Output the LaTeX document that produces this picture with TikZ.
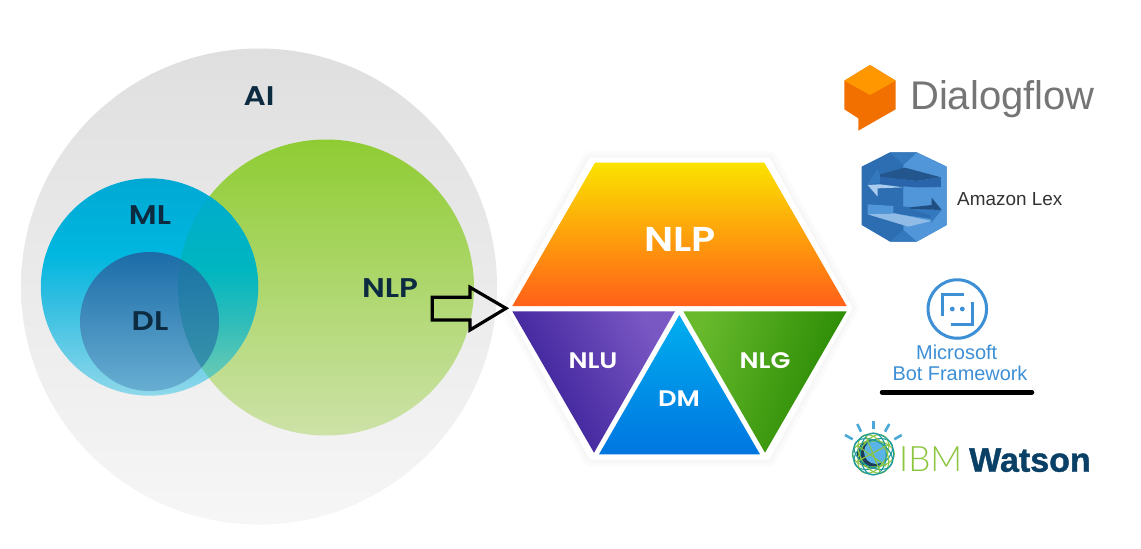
\documentclass[tikz,border=0pt]{standalone}
\usepackage{fontspec}
\usetikzlibrary{calc}
\setmainfont{Liberation Sans}
\newfontfamily\lblfont[FakeStretch=1.15]{Poppins SemiBold}
\newfontfamily\thinfont{Lato Light}
\newfontfamily\watsonfont[FakeBold=1.2]{Liberation Sans Bold}
\definecolor{inkdark}{HTML}{0D2B40}
\definecolor{msblue}{HTML}{3D8FD6}
\definecolor{dfgray}{HTML}{757575}
\definecolor{ibmgreen}{HTML}{8CC63F}
\definecolor{ibmteal}{HTML}{1E9A9A}
\definecolor{ibmnavy}{HTML}{0A4066}
\definecolor{raysblue}{HTML}{4AA9D8}
\definecolor{globeblue}{HTML}{5AB4E6}
\definecolor{globedark}{HTML}{1E3A5A}
\definecolor{lxbase}{RGB}{45,109,178}
\definecolor{lxlight}{RGB}{80,150,216}
\definecolor{lxmid}{RGB}{52,120,190}
\definecolor{lxnavy}{RGB}{35,86,140}
\definecolor{lxdeep}{RGB}{42,100,170}
\definecolor{lxpale}{RGB}{170,204,238}
\definecolor{lxnavyb}{RGB}{30,78,130}
\definecolor{lxsoft}{RGB}{143,187,230}
\definecolor{dfa}{RGB}{241,112,0}
\definecolor{dfc}{RGB}{255,152,0}
\definecolor{mla}{HTML}{00A9D4}
\definecolor{mlb}{HTML}{00B7DF}
\definecolor{mlc}{HTML}{2FBDE1}
\definecolor{mld}{HTML}{90D8EA}
\definecolor{ova}{HTML}{00A9CF}
\definecolor{ovb}{HTML}{00B6C0}
\definecolor{ovc}{HTML}{2DBCBA}
\definecolor{ovd}{HTML}{60C8B5}
\definecolor{ove}{HTML}{70CCB5}
\pgfdeclareverticalshading{mlshade}{100bp}{color(0bp)=(mld); color(25bp)=(mld); color(47.5bp)=(mlc); color(57.5bp)=(mlb); color(75bp)=(mla); color(100bp)=(mla)}
\pgfdeclareverticalshading{ovshade}{100bp}{color(0bp)=(ove); color(25bp)=(ove); color(31bp)=(ovd); color(42.5bp)=(ovc); color(54bp)=(ovb); color(75bp)=(ova); color(100bp)=(ova)}
\tikzset{
  darklabel/.style={inner sep=0pt,text=inkdark,font=\lblfont\fontsize{27}{27}\selectfont},
  whitesmall/.style={inner sep=0pt,text=white,font=\lblfont\fontsize{22.5}{22.5}\selectfont},
  whitebig/.style={inner sep=0pt,text=white,font=\lblfont\fontsize{34.5}{34.5}\selectfont},
  brandtext/.style={inner sep=0pt,anchor=base},
  botline/.style={msblue,line width=3pt},
  ray/.style={raysblue,line width=2.6pt},
  orbit/.style={line width=1.1pt},
}
\begin{document}
\begin{tikzpicture}[x=1pt,y=-1pt]
\useasboundingbox (0,0) rectangle (1141,549);
\fill[white] (0,0) rectangle (1141,549);
% coordinates
\coordinate (cAI) at (259,286.5);
\coordinate (cNLP) at (326,287.5);
\coordinate (cML) at (149.5,287);
\coordinate (cDL) at (149.5,321.5);
\def\rAI{238pt}\def\rNLP{148pt}\def\rML{108.7pt}\def\rDL{69.5pt}
% circles
\shade[top color=black!12.5,bottom color=black!3.5] (cAI) circle[radius=\rAI];
\shade[top color={rgb,255:red,143;green,204;blue,51},bottom color={rgb,255:red,205;green,226;blue,168}] (cNLP) circle[radius=\rNLP];
\shade[shading=mlshade] (cML) circle[radius=\rML];
\begin{scope}
  \clip (cNLP) circle[radius=\rNLP];
  \shade[shading=ovshade] (cML) circle[radius=\rML];
\end{scope}
\shade[top color={rgb,255:red,28;green,108;blue,168},bottom color={rgb,255:red,104;green,174;blue,210}] (cDL) circle[radius=\rDL];
\begin{scope}
  \clip (cNLP) circle[radius=\rNLP];
  \shade[top color={rgb,255:red,26;green,114;blue,166},middle color={rgb,255:red,31;green,133;blue,172},bottom color={rgb,255:red,60;green,152;blue,172}] (cDL) circle[radius=\rDL];
\end{scope}
\node[darklabel] (lAI) at (259,96) {AI};
\node[darklabel] (lML) at (150,215) {ML};
\node[darklabel] (lDL) at (150,321) {DL};
\node[darklabel] (lNLP) at (390,288) {NLP};
% hexagon glow and rim
\def\hexpath{(590,158) -- (769,158) -- (852,308) -- (769,459) -- (590,459) -- (507,308) -- cycle}
\begin{scope}[line join=round]
  \draw[black!1.5,line width=14pt] \hexpath;
  \draw[black!3,line width=7pt] \hexpath;
  \fill[white,draw=white,line width=1pt] \hexpath;
\end{scope}
% hexagon parts
\shade[top color={rgb,255:red,251;green,226;blue,0},middle color={rgb,255:red,255;green,154;blue,16},bottom color={rgb,255:red,255;green,96;blue,24}] (595,162.7) -- (764.3,162.7) -- (846.7,306) -- (512.3,306) -- cycle;
\shade[shading=axis,top color={rgb,255:red,122;green,88;blue,196},bottom color={rgb,255:red,52;green,26;blue,148},shading angle=-60] (512.3,311.3) -- (675,311.3) -- (594,452.7) -- cycle;
\shade[shading=axis,top color={rgb,255:red,104;green,186;blue,44},bottom color={rgb,255:red,36;green,134;blue,0},shading angle=72] (683.3,311.3) -- (846.7,311.3) -- (765,452.7) -- cycle;
\shade[top color={rgb,255:red,0;green,174;blue,239},bottom color={rgb,255:red,0;green,118;blue,224}] (679.3,315) -- (760,454.3) -- (599,454.3) -- cycle;
\node[whitebig] (hNLP) at (680,239) {NLP};
\node[whitesmall] (hNLU) at (593,361) {NLU};
\node[whitesmall] (hNLG) at (765,361) {NLG};
\node[whitesmall] (hDM) at (679,399) {DM};
% outline arrow
\draw[black,line width=3.2pt,line join=miter] (432.3,297.3) -- (470,297.3) -- (470,287.3) -- (506,308.3) -- (470,330) -- (470,320) -- (432.3,320) -- cycle;
% Dialogflow logo
\fill[dfa] (870,65) -- (895.7,80.7) -- (895.7,109.3) -- (858.3,130.7) -- (858.3,118.3) -- (844.3,109.3) -- (844.3,80.7) -- cycle;
\fill[dfc] (870,65) -- (895.7,80.7) -- (870,95) -- (844.3,80.7) -- cycle;
\node[brandtext,anchor=base west,text=dfgray,font=\fontsize{40}{40}\selectfont] (tDF) at (910,109) {Dialogflow};
% Amazon Lex logo
\begin{scope}[shift={(840,145)},x=.3333pt,y=-.3333pt]
  \fill[lxbase] (150,22) -- (230,22) -- (320,65) -- (320,240) -- (230,290) -- (150,290) -- (65,240) -- (65,65) -- cycle;
  \fill[lxlight] (190,60) -- (230,22) -- (320,65) -- (320,240) -- (230,290) -- (190,255) -- cycle;
  \fill[lxmid] (150,22) -- (230,22) -- (190,60) -- cycle;
  \fill[lxmid] (150,290) -- (230,290) -- (190,255) -- cycle;
  \fill[lxmid] (113,70) -- (83,118) -- (120,118) -- (120,92) -- cycle;
  \fill[lxnavy] (120,88) -- (195,68) -- (303,97) -- (228,108) -- (120,95) -- cycle;
  \fill[lxdeep] (228,108) -- (303,97) -- (303,127) -- (228,127) -- cycle;
  \fill[lxbase] (85,118) -- (190,108) -- (190,180) -- (85,175) -- cycle;
  \fill[lxdeep] (120,95) -- (228,108) -- (228,127) -- (120,118) -- cycle;
  \fill[lxpale] (83,120) -- (113,155) -- (113,130) -- (190,127) -- (120,118) -- cycle;
  \fill[lxlight] (190,130) -- (303,127) -- (303,160) -- (190,182) -- cycle;
  \fill[lxbase] (160,183) -- (275,190) -- (275,222) -- (160,205) -- cycle;
  \fill[lxnavyb] (212,187) -- (275,180) -- (275,158) -- (305,195) -- (212,192) -- cycle;
  \fill[lxmid] (212,192) -- (305,195) -- (272,235) -- (275,212) -- cycle;
  \fill[lxlight] (83,178) -- (160,183) -- (160,205) -- (83,208) -- cycle;
  \fill[lxsoft] (83,208) -- (165,205) -- (275,228) -- (205,245) -- cycle;
\end{scope}
\node[brandtext,anchor=base west,text=black!80,font=\fontsize{18.9}{18.9}\selectfont] (tLex) at (957,205) {Amazon Lex};
% Microsoft Bot Framework logo
\node[circle,draw=msblue,line width=3pt,minimum size=58.5pt,inner sep=0pt] (msring) at (957.3,309) {};
\coordinate (ba) at (964.3,294);
\coordinate (bb) at (942.3,294);
\coordinate (bc) at (942.3,316);
\coordinate (bd) at (950.7,324);
\coordinate (be) at (972.3,324);
\coordinate (bf) at (972.3,302.3);
\draw[botline] (ba) -- (bb) -- (bc);
\draw[botline] (bd) -- (be) -- (bf);
\fill[msblue] (952.3,309) circle[radius=2.4pt];
\fill[msblue] (962.3,309) circle[radius=2.4pt];
\node[brandtext,text=msblue,font=\fontsize{20}{20}\selectfont] (tMS) at (956.7,359) {Microsoft};
\node[brandtext,text=msblue,font=\fontsize{19.9}{20}\selectfont] (tBF) at (960,380.7) {Bot Framework};
\coordinate (ula) at (882,392.3);
\coordinate (ulb) at (1032,392.3);
\draw[black,line width=4.5pt,line cap=round] (ula) -- (ulb);
% IBM Watson logo
\draw[ray] (845,435) -- (852.7,439.3);
\draw[ray] (857.3,424) -- (861,431.7);
\draw[ray] (873.3,420.7) -- (873.3,429.3);
\draw[ray] (889.3,424) -- (885,431.7);
\draw[ray] (901.7,435) -- (894.3,439.3);
\fill[globedark] (871,454) circle[radius=14pt];
\fill[globeblue] (876,452) circle[radius=12pt];
\foreach \a/\c in {0/ibmgreen,30/ibmteal,60/ibmgreen,90/ibmteal,120/ibmgreen,150/ibmteal}{
  \draw[orbit,\c,rotate around={\a:(873.3,454)}] (873.3,454) ellipse[x radius=21pt,y radius=13pt];
}
\draw[orbit,ibmteal] (873.3,454) circle[radius=20.5pt];
\draw[orbit,ibmgreen] (858,446) -- (886,466) (856,462) -- (890,444) (866,436) -- (880,472);
\node[brandtext,anchor=base west,text=ibmgreen,font=\thinfont\fontsize{35}{35}\selectfont] (tIBM) at (899,471.7) {IBM};
\node[brandtext,anchor=base west,text=ibmnavy,font=\watsonfont\fontsize{34}{34}\selectfont] (tW) at (969,471.7) {Watson};
\end{tikzpicture}
\end{document}
